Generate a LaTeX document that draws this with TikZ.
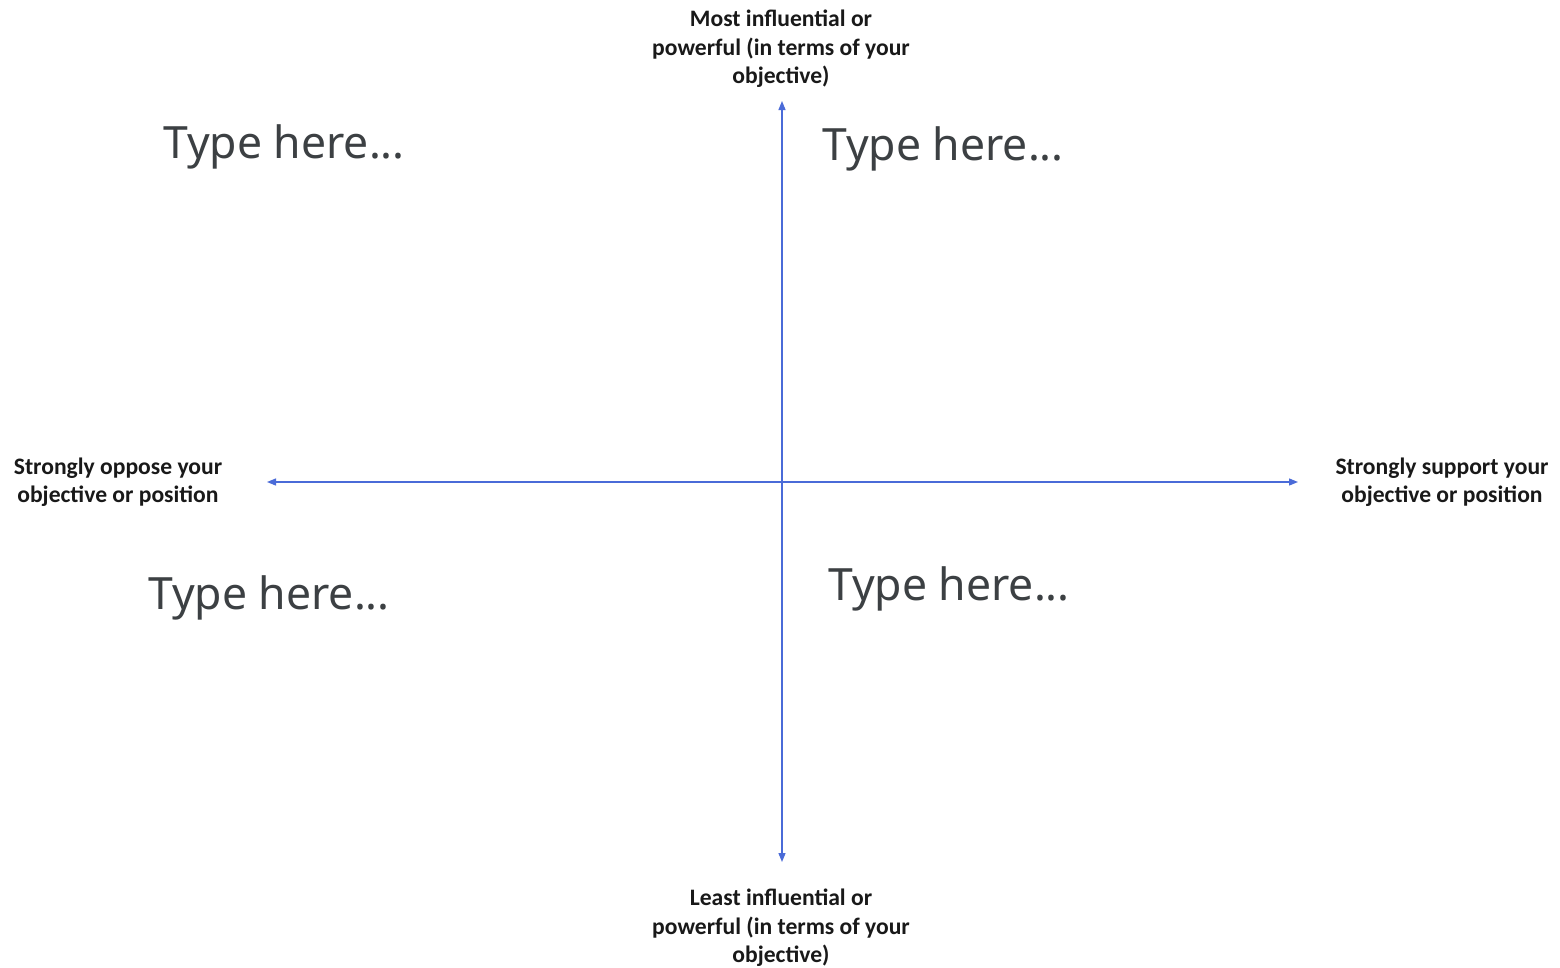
\documentclass[tikz,border=0pt]{standalone}
\usepackage{fontspec}
\setmainfont{Carlito}
\newfontfamily\typefont{Noto Sans}
\usetikzlibrary{arrows.meta}
\definecolor{axisblue}{HTML}{4A6BD8}
\definecolor{typegray}{HTML}{3C4043}
\tikzset{
  axis/.style={draw=axisblue, line width=1.3pt, {Triangle[length=9pt,width=7pt]}-{Triangle[length=9pt,width=7pt]}},
  axlabel/.style={font=\fontsize{23.6}{28.5}\selectfont\bfseries, align=center, inner sep=0pt, text=black!90},
  typetext/.style={font=\typefont\fontsize{44.5}{50}\selectfont, text=typegray, inner sep=0pt, anchor=base west},
}
\begin{document}
\begin{tikzpicture}[x=1pt,y=-1pt]
\path[fill=white] (0,0) rectangle (1560,967);
\coordinate (top) at (782,101);
\coordinate (bot) at (782,862);
\coordinate (lft) at (267,482);
\coordinate (rgt) at (1298,482);
\draw[axis] (bot) -- (top);
\draw[axis] (lft) -- (rgt);
\node[axlabel] (ltop) at (781,49) {Most influential or\\powerful (in terms of your\\objective)};
\node[axlabel] (lbot) at (781,928) {Least influential or\\powerful (in terms of your\\objective)};
\node[axlabel] (lleft) at (118,482) {Strongly oppose your\\objective or position};
\node[axlabel] (lright) at (1442,482) {Strongly support your\\objective or position};
\node[typetext] (tl) at (163,158) {Type here...};
\node[typetext] (tr) at (822,160) {Type here...};
\node[typetext] (bl) at (148,609) {Type here...};
\node[typetext] (br) at (828,600) {Type here...};
\end{tikzpicture}
\end{document}
